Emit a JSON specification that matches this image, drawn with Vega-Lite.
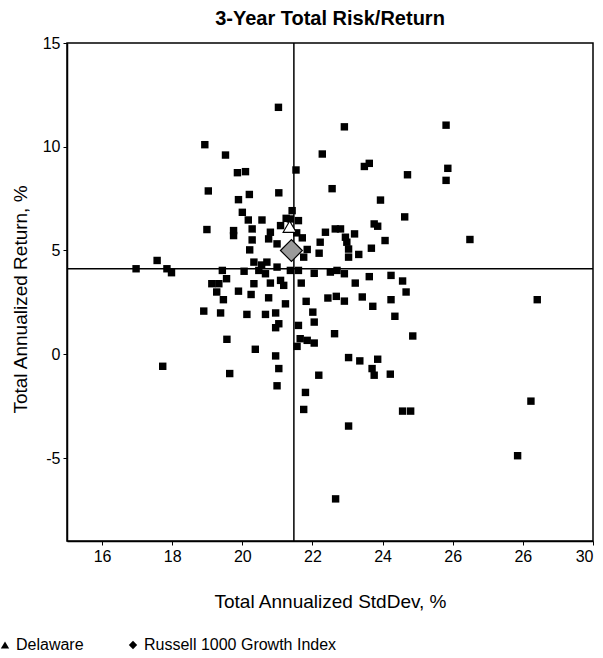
{
  "$schema": "https://vega.github.io/schema/vega-lite/v6.json",
  "width": 526,
  "height": 498,
  "autosize": "none",
  "padding": {"left": 67, "top": 43, "right": 10, "bottom": 117},
  "background": "white",
  "config": {
    "font": "Liberation Sans",
    "view": {"stroke": "black", "strokeWidth": 1.5},
    "axis": {"grid": false, "domainColor": "black", "tickColor": "black", "labelColor": "black", "titleColor": "black", "domainWidth": 1.5, "tickSize": 4, "labelFontSize": 16, "titleFontSize": 19, "titleFontWeight": "normal"}
  },
  "title": {"text": "3-Year Total Risk/Return", "fontSize": 20, "fontWeight": "bold", "anchor": "middle", "color": "black", "offset": 6},
  "datasets": {
    "funds": [
      {"sd": 21.03, "ret": 11.9}, {"sd": 18.93, "ret": 10.1}, {"sd": 19.52, "ret": 9.6}, {"sd": 19.86, "ret": 8.75},
      {"sd": 20.09, "ret": 8.8}, {"sd": 21.53, "ret": 8.88}, {"sd": 22.28, "ret": 9.65}, {"sd": 19.03, "ret": 7.87},
      {"sd": 19.89, "ret": 7.45}, {"sd": 20.2, "ret": 7.7}, {"sd": 21.04, "ret": 7.78}, {"sd": 22.91, "ret": 10.96},
      {"sd": 25.81, "ret": 11.04}, {"sd": 23.48, "ret": 9.05}, {"sd": 23.62, "ret": 9.2}, {"sd": 24.71, "ret": 8.65},
      {"sd": 25.86, "ret": 8.96}, {"sd": 25.81, "ret": 8.38}, {"sd": 22.56, "ret": 7.98}, {"sd": 23.94, "ret": 7.43},
      {"sd": 24.63, "ret": 6.62}, {"sd": 23.76, "ret": 6.28}, {"sd": 23.86, "ret": 6.17}, {"sd": 21.6, "ret": 6.44},
      {"sd": 22.37, "ret": 5.88}, {"sd": 22.65, "ret": 6.04}, {"sd": 22.8, "ret": 6.04}, {"sd": 22.94, "ret": 5.64},
      {"sd": 23.2, "ret": 5.8}, {"sd": 24.07, "ret": 5.48}, {"sd": 21.71, "ret": 5.61}, {"sd": 22.22, "ret": 5.4},
      {"sd": 26.49, "ret": 5.53}, {"sd": 21.85, "ret": 5.05}, {"sd": 22.19, "ret": 4.87}, {"sd": 22.98, "ret": 5.4},
      {"sd": 23.03, "ret": 5.07}, {"sd": 23.03, "ret": 4.68}, {"sd": 23.32, "ret": 4.81}, {"sd": 23.68, "ret": 5.11},
      {"sd": 21.6, "ret": 4.04}, {"sd": 22.05, "ret": 3.9}, {"sd": 22.51, "ret": 3.96}, {"sd": 22.7, "ret": 4.04},
      {"sd": 22.91, "ret": 3.88}, {"sd": 21.68, "ret": 3.43}, {"sd": 23.22, "ret": 3.43}, {"sd": 23.62, "ret": 3.74},
      {"sd": 24.24, "ret": 3.8}, {"sd": 24.57, "ret": 3.53}, {"sd": 24.67, "ret": 3.0}, {"sd": 21.82, "ret": 2.55},
      {"sd": 22.44, "ret": 2.71}, {"sd": 22.68, "ret": 2.79}, {"sd": 22.91, "ret": 2.56}, {"sd": 23.42, "ret": 2.76},
      {"sd": 23.72, "ret": 2.31}, {"sd": 24.24, "ret": 2.63}, {"sd": 24.35, "ret": 1.83}, {"sd": 22.01, "ret": 2.03},
      {"sd": 22.05, "ret": 1.55}, {"sd": 21.6, "ret": 1.39}, {"sd": 22.63, "ret": 0.99}, {"sd": 24.86, "ret": 0.88},
      {"sd": 21.65, "ret": 0.75}, {"sd": 21.85, "ret": 0.67}, {"sd": 22.05, "ret": 0.54}, {"sd": 21.56, "ret": 0.38},
      {"sd": 23.03, "ret": -0.16}, {"sd": 23.35, "ret": -0.32}, {"sd": 23.86, "ret": -0.24}, {"sd": 22.18, "ret": -1.01},
      {"sd": 23.7, "ret": -0.69}, {"sd": 23.76, "ret": -1.01}, {"sd": 24.22, "ret": -0.96}, {"sd": 21.8, "ret": -1.84},
      {"sd": 21.75, "ret": -2.66}, {"sd": 24.57, "ret": -2.74}, {"sd": 24.8, "ret": -2.74}, {"sd": 23.03, "ret": -3.46},
      {"sd": 28.41, "ret": 2.63}, {"sd": 28.23, "ret": -2.26}, {"sd": 27.85, "ret": -4.89}, {"sd": 22.66, "ret": -6.97},
      {"sd": 16.97, "ret": 4.12}, {"sd": 17.57, "ret": 4.52}, {"sd": 17.85, "ret": 4.12}, {"sd": 17.98, "ret": 3.93},
      {"sd": 17.73, "ret": -0.58}, {"sd": 19.43, "ret": 4.04}, {"sd": 19.13, "ret": 3.4}, {"sd": 19.33, "ret": 3.4},
      {"sd": 19.55, "ret": 3.64}, {"sd": 19.27, "ret": 3.0}, {"sd": 19.46, "ret": 2.63}, {"sd": 18.9, "ret": 2.08},
      {"sd": 19.38, "ret": 1.99}, {"sd": 19.56, "ret": 0.72}, {"sd": 20.05, "ret": 4.0}, {"sd": 19.89, "ret": 3.04},
      {"sd": 20.13, "ret": 1.92}, {"sd": 20.37, "ret": 0.24}, {"sd": 20.95, "ret": -0.08}, {"sd": 20.25, "ret": 2.88},
      {"sd": 20.33, "ret": 3.4}, {"sd": 20.33, "ret": 4.44}, {"sd": 20.47, "ret": 4.04}, {"sd": 20.7, "ret": 4.44},
      {"sd": 20.66, "ret": 3.88}, {"sd": 20.99, "ret": 4.2}, {"sd": 20.8, "ret": 3.43}, {"sd": 21.09, "ret": 3.56},
      {"sd": 21.18, "ret": 3.32}, {"sd": 20.75, "ret": 2.72}, {"sd": 21.23, "ret": 2.43}, {"sd": 20.66, "ret": 1.92},
      {"sd": 20.95, "ret": 1.99}, {"sd": 21.04, "ret": 1.47}, {"sd": 20.95, "ret": 1.28}, {"sd": 20.21, "ret": 5.03},
      {"sd": 21.37, "ret": 4.04}, {"sd": 20.55, "ret": 4.3}, {"sd": 19.64, "ret": -0.93}, {"sd": 21.04, "ret": -0.69},
      {"sd": 20.99, "ret": -1.52}, {"sd": 20.0, "ret": 6.84}, {"sd": 20.17, "ret": 6.47}, {"sd": 20.28, "ret": 6.04},
      {"sd": 20.56, "ret": 6.47}, {"sd": 18.99, "ret": 6.01}, {"sd": 19.75, "ret": 5.96}, {"sd": 19.75, "ret": 5.72},
      {"sd": 20.28, "ret": 5.51}, {"sd": 20.8, "ret": 5.88}, {"sd": 20.75, "ret": 5.56}, {"sd": 21.09, "ret": 6.2},
      {"sd": 21.42, "ret": 6.92}, {"sd": 21.37, "ret": 6.52}, {"sd": 20.99, "ret": 5.32}, {"sd": 21.75, "ret": 4.68},
      {"sd": 21.25, "ret": 6.55}, {"sd": 21.55, "ret": 5.85}
    ],
    "refs": [{"name": "Delaware", "sd": 21.35, "ret": 6.15}, {"name": "Russell 1000 Growth Index", "sd": 21.4, "ret": 5.0}],
    "medians": [{"sd": 21.47, "ret": 4.12}]
  },
  "layer": [
    {
      "data": {"name": "medians"},
      "mark": {"type": "rule", "color": "black", "strokeWidth": 1.5},
      "encoding": {"x": {"field": "sd", "type": "quantitative"}}
    },
    {
      "data": {"name": "medians"},
      "mark": {"type": "rule", "color": "black", "strokeWidth": 1.5},
      "encoding": {"y": {"field": "ret", "type": "quantitative"}}
    },
    {
      "data": {"name": "funds"},
      "mark": {"type": "point", "shape": "square", "filled": true, "color": "black", "size": 55, "opacity": 1},
      "encoding": {
        "x": {"field": "sd", "type": "quantitative", "scale": {"domain": [15, 30], "nice": false, "zero": false},
          "axis": {"title": "Total Annualized StdDev, %", "values": [16, 18, 20, 22, 24, 26, 28, 30], "labelExpr": "datum.value == 28 ? '26' : datum.label", "titlePadding": 28, "labelPadding": 3}},
        "y": {"field": "ret", "type": "quantitative", "scale": {"domain": [-9, 15], "nice": false, "zero": false},
          "axis": {"title": "Total Annualized Return, %", "values": [-5, 0, 5, 10, 15], "labelExpr": "'' + datum.value", "titlePadding": 12, "labelPadding": 3, "titleY": 256}}
      }
    },
    {
      "data": {"name": "refs"},
      "mark": {"type": "point", "filled": true, "color": "black", "size": 70, "opacity": 1},
      "encoding": {
        "x": {"field": "sd", "type": "quantitative"},
        "y": {"field": "ret", "type": "quantitative"},
        "shape": {"field": "name", "type": "nominal", "scale": {"domain": ["Delaware", "Russell 1000 Growth Index"], "range": ["triangle-up", "diamond"]},
          "legend": {"title": null, "orient": "none", "direction": "horizontal", "legendX": -70, "legendY": 594, "labelFontSize": 16, "labelColor": "black", "labelLimit": 500, "columnPadding": 41, "symbolSize": 70, "labelOffset": 3}}
      }
    },
    {
      "data": {"name": "refs"},
      "transform": [{"filter": "datum.name == 'Delaware'"}],
      "mark": {"type": "point", "shape": "triangle-up", "filled": true, "fill": "white", "stroke": "black", "strokeWidth": 1.2, "size": 170, "opacity": 1},
      "encoding": {
        "x": {"field": "sd", "type": "quantitative"},
        "y": {"field": "ret", "type": "quantitative"}
      }
    },
    {
      "data": {"name": "refs"},
      "transform": [{"filter": "datum.name == 'Russell 1000 Growth Index'"}],
      "mark": {"type": "point", "shape": "diamond", "filled": true, "fill": "#9a9a9a", "stroke": "black", "strokeWidth": 1.2, "size": 480, "opacity": 1},
      "encoding": {
        "x": {"field": "sd", "type": "quantitative"},
        "y": {"field": "ret", "type": "quantitative"}
      }
    }
  ]
}
